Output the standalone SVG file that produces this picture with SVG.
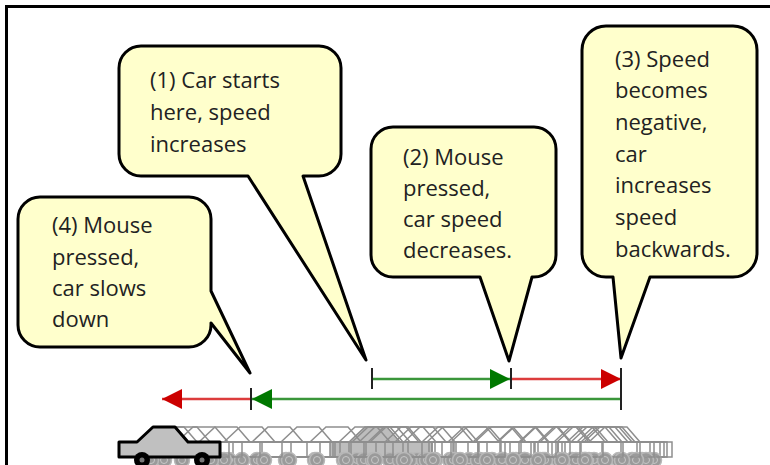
<svg xmlns="http://www.w3.org/2000/svg" xmlns:xlink="http://www.w3.org/1999/xlink" width="770" height="465" viewBox="0 0 770 465">
  <style>
    .callout { fill: #ffffcc; stroke: #000; stroke-width: 3; stroke-linejoin: round; }
    .label { font-family: "Open Sans", "Liberation Sans", sans-serif; font-size: 22px; fill: #222; }
    .tick { stroke: #222; stroke-width: 2; }
    .fwd { stroke: #3a963a; stroke-width: 2.5; fill: none; }
    .rev { stroke: #dc3c3c; stroke-width: 2.5; fill: none; }
    .ghost-line { fill: none; stroke: #8e8e8e; stroke-width: 1.5; }
    .ghost-wheel { fill: #9a9a9a; stroke: #b8b8b8; stroke-width: 1.5; }
    .ghost-hub { fill: none; stroke: #c8c8c8; stroke-width: 1; }
  </style>
  <defs>
    <marker id="head-green" markerUnits="userSpaceOnUse" markerWidth="20" markerHeight="20" viewBox="0 0 18 18" refX="18" refY="9" orient="auto">
      <path d="M0,0 L18,9 L0,18 Z" fill="#007800"/>
    </marker>
    <marker id="head-red" markerUnits="userSpaceOnUse" markerWidth="20" markerHeight="20" viewBox="0 0 18 18" refX="18" refY="9" orient="auto">
      <path d="M0,0 L18,9 L0,18 Z" fill="#cc0000"/>
    </marker>
    <!-- one snapshot of the car along its path; left edge at x=0 -->
    <g id="ghost">
      <path class="ghost-line" d="M19,442 L35,427 L57,427 L70,442"/>
      <rect class="ghost-line" x="0" y="442" width="102" height="15"/>
      <circle class="ghost-wheel" cx="24" cy="460" r="7.5"/>
      <circle class="ghost-hub" cx="24" cy="460" r="3.5"/>
      <circle class="ghost-wheel" cx="84" cy="460" r="7.5"/>
      <circle class="ghost-hub" cx="84" cy="460" r="3.5"/>
    </g>
  </defs>

  <rect width="770" height="465" fill="#fff"/>
  <!-- outer frame -->
  <rect x="6.5" y="6.5" width="800" height="500" fill="none" stroke="#000" stroke-width="3"/>

  <!-- callouts -->
  <g id="callout-1">
    <path class="callout" d="M141,46 H319 A22,22 0 0 1 341,68 V154 A22,22 0 0 1 319,176 H303 L366,360 L248,176 H141 A22,22 0 0 1 119,154 V68 A22,22 0 0 1 141,46 Z"/>
    <text class="label"><tspan x="150" y="88">(1) Car starts</tspan><tspan x="150" y="120">here, speed</tspan><tspan x="150" y="152">increases</tspan></text>
  </g>
  <g id="callout-2">
    <path class="callout" d="M393,127 H534 A22,22 0 0 1 556,149 V255 A22,22 0 0 1 534,277 H532 L509,361 L480,277 H393 A22,22 0 0 1 371,255 V149 A22,22 0 0 1 393,127 Z"/>
    <text class="label"><tspan x="403" y="165">(2) Mouse</tspan><tspan x="403" y="196">pressed,</tspan><tspan x="403" y="227">car speed</tspan><tspan x="403" y="258">decreases.</tspan></text>
  </g>
  <g id="callout-3">
    <path class="callout" d="M606,26 H733 A24,24 0 0 1 757,50 V253 A24,24 0 0 1 733,277 H650 L621,358 L613,277 H606 A24,24 0 0 1 582,253 V50 A24,24 0 0 1 606,26 Z"/>
    <text class="label"><tspan x="615" y="67">(3) Speed</tspan><tspan x="615" y="98">becomes</tspan><tspan x="615" y="130">negative,</tspan><tspan x="615" y="162">car</tspan><tspan x="615" y="193">increases</tspan><tspan x="615" y="225">speed</tspan><tspan x="615" y="257">backwards.</tspan></text>
  </g>
  <g id="callout-4">
    <path class="callout" d="M40,197 H189 A22,22 0 0 1 211,219 V291 L250,373 L211,323 V325 A22,22 0 0 1 189,347 H40 A22,22 0 0 1 18,325 V219 A22,22 0 0 1 40,197 Z"/>
    <text class="label"><tspan x="52" y="233">(4) Mouse</tspan><tspan x="52" y="265">pressed,</tspan><tspan x="52" y="296">car slows</tspan><tspan x="52" y="327">down</tspan></text>
  </g>

  <!-- motion arrows -->
  <g id="connectors">
    <line class="fwd" x1="372" y1="379" x2="510" y2="379" marker-end="url(#head-green)"/>
    <line class="rev" x1="511" y1="379" x2="621" y2="379" marker-end="url(#head-red)"/>
    <line class="fwd" x1="621" y1="399" x2="252" y2="399" marker-end="url(#head-green)"/>
    <line class="rev" x1="251" y1="399" x2="162" y2="399" marker-end="url(#head-red)"/>
    <line class="tick" x1="372" y1="368" x2="372" y2="389"/>
    <line class="tick" x1="511" y1="368" x2="511" y2="389"/>
    <line class="tick" x1="621" y1="368" x2="621" y2="410"/>
    <line class="tick" x1="251" y1="388" x2="251" y2="410"/>
  </g>

  <!-- trail of car snapshots -->
  <g id="car-trail">
    <g>
      <path d="M349,442 L365,427 L387,427 L400,442 Z" fill="#bdbdbd" stroke="#8c8c8c" stroke-width="1.5"/>
      <rect x="330" y="442" width="102" height="15" fill="#bdbdbd" stroke="#8c8c8c" stroke-width="1.5"/>
    </g>
    <use xlink:href="#ghost" x="333"/>
    <use xlink:href="#ghost" x="340"/>
    <use xlink:href="#ghost" x="351"/>
    <use xlink:href="#ghost" x="366"/>
    <use xlink:href="#ghost" x="385"/>
    <use xlink:href="#ghost" x="408"/>
    <use xlink:href="#ghost" x="432"/>
    <use xlink:href="#ghost" x="456"/>
    <use xlink:href="#ghost" x="479"/>
    <use xlink:href="#ghost" x="500"/>
    <use xlink:href="#ghost" x="519"/>
    <use xlink:href="#ghost" x="535"/>
    <use xlink:href="#ghost" x="548"/>
    <use xlink:href="#ghost" x="558"/>
    <use xlink:href="#ghost" x="565"/>
    <use xlink:href="#ghost" x="570"/>
    <use xlink:href="#ghost" x="562"/>
    <use xlink:href="#ghost" x="552"/>
    <use xlink:href="#ghost" x="538"/>
    <use xlink:href="#ghost" x="521"/>
    <use xlink:href="#ghost" x="501"/>
    <use xlink:href="#ghost" x="478"/>
    <use xlink:href="#ghost" x="454"/>
    <use xlink:href="#ghost" x="429"/>
    <use xlink:href="#ghost" x="403"/>
    <use xlink:href="#ghost" x="376"/>
    <use xlink:href="#ghost" x="349"/>
    <use xlink:href="#ghost" x="320"/>
    <use xlink:href="#ghost" x="291"/>
    <use xlink:href="#ghost" x="262"/>
    <use xlink:href="#ghost" x="233"/>
    <use xlink:href="#ghost" x="205"/>
    <use xlink:href="#ghost" x="180"/>
    <use xlink:href="#ghost" x="158"/>
    <use xlink:href="#ghost" x="140"/>
    <use xlink:href="#ghost" x="127"/>
    <!-- final position of the car -->
    <g id="car">
      <path d="M119,442 V457 H220 V442 H188 L175,427 H153 L137,442 Z" fill="#c0c0c0" stroke="#000" stroke-width="3" stroke-linejoin="round"/>
      <circle cx="142" cy="460" r="8" fill="#000"/>
      <circle cx="142" cy="460" r="2.5" fill="#777"/>
      <circle cx="202" cy="460" r="8" fill="#000"/>
      <circle cx="202" cy="460" r="2.5" fill="#777"/>
    </g>
  </g>
</svg>
